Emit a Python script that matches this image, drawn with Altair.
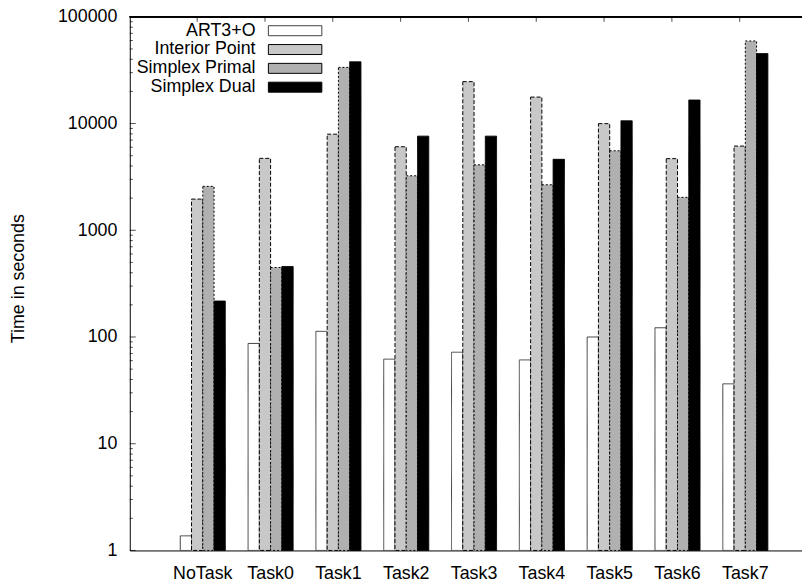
import altair as alt
import pandas as pd

FONT = "Liberation Sans"

categories = ["NoTask", "Task0", "Task1", "Task2", "Task3", "Task4", "Task5", "Task6", "Task7"]
series = ["ART3+O", "Interior Point", "Simplex Primal", "Simplex Dual"]
art3o = [1.37, 87, 113, 62, 72, 61, 100, 122, 36.4]
interior_point = [1960, 4720, 7950, 6060, 24700, 17700, 9980, 4690, 6150]
simplex_primal = [2580, 448, 33600, 3240, 4100, 2670, 5560, 2035, 59400]
simplex_dual = [217, 458, 37900, 7620, 7620, 4620, 10600, 16600, 45300]
y_ticks = [1, 10, 100, 1000, 10000, 100000]
minor_ticks = [m * 10 ** e for e in range(5) for m in range(2, 10)]

fills = ["#ffffff", "#c8c8c8", "#b0b0b0", "#000000"]
strokes = ["#404040", "#000000", "#000000", "#000000"]
dashes = [[1, 0], [4, 2], [2, 2], [1, 0]]

rows = []
for s, vals in zip(series, [art3o, interior_point, simplex_primal, simplex_dual]):
    for c, v in zip(categories, vals):
        rows.append({"task": c, "series": s, "value": v})
df = pd.DataFrame(rows)
legend_df = pd.DataFrame({"series": series})
task_df = pd.DataFrame({"task": categories})
major_df = pd.DataFrame({"v": y_ticks})
minor_df = pd.DataFrame({"v": minor_ticks})

W, H = 679, 539

x_scale = alt.Scale(type="band", domain=categories, paddingInner=0.3358,
                    paddingOuter=0.6241, align=0.5965)
y_scale = alt.Scale(type="log", domain=[1, 100000], nice=False)
fill_enc = alt.Fill("series:N", scale=alt.Scale(domain=series, range=fills), legend=None)
stroke_enc = alt.Stroke("series:N", scale=alt.Scale(domain=series, range=strokes), legend=None)
dash_enc = alt.StrokeDash("series:N", scale=alt.Scale(domain=series, range=dashes), legend=None)
xoff = alt.XOffset("series:N", sort=series,
                   scale=alt.Scale(domain=series, paddingInner=0, paddingOuter=0))

bars = alt.Chart(df).mark_bar(strokeWidth=1).encode(
    x=alt.X("task:N", sort=categories, scale=x_scale,
            axis=alt.Axis(orient="bottom", title=None, labelAngle=0, ticks=False,
                          domain=True, domainColor="black", labelFontSize=18,
                          labelFont=FONT, labelColor="black", labelPadding=14,
                          bandPosition=0.375, grid=False)),
    xOffset=xoff,
    y=alt.Y("value:Q", scale=y_scale,
            axis=alt.Axis(orient="left", values=y_ticks, format="d", ticks=False,
                          labelPadding=13, labelFontSize=18, labelFont=FONT,
                          labelColor="black", domain=True, domainColor="black",
                          title="Time in seconds", titleFontSize=18, titleFont=FONT,
                          titleFontWeight="normal", titleColor="black",
                          titleX=-112.5, titleY=264, titleBaseline="middle",
                          titleAlign="center", titleAngle=270, grid=False)),
    y2=alt.datum(1),
    fill=fill_enc, stroke=stroke_enc, strokeDash=dash_enc,
)

top_border = alt.Chart(task_df).mark_rule(color="black", strokeWidth=1).encode(
    x=alt.value(0), x2=alt.value(W), y=alt.value(0)
)

top_ticks = alt.Chart(task_df).mark_tick(
    color="black", orient="vertical", size=5, thickness=1
).encode(
    x=alt.X("task:N", sort=categories, scale=x_scale, bandPosition=0.375, axis=None),
    y=alt.value(2.5),
)

major_y = alt.Chart(major_df).mark_tick(
    color="black", orient="horizontal", size=6, thickness=1
).encode(
    y=alt.Y("v:Q", scale=y_scale, axis=None), x=alt.value(3)
)

minor_y = alt.Chart(minor_df).mark_tick(
    color="black", orient="horizontal", size=3, thickness=1
).encode(
    y=alt.Y("v:Q", scale=y_scale, axis=None), x=alt.value(1.5)
)

leg_y = alt.Y("series:N", sort=series,
              scale=alt.Scale(type="band", domain=series, range=[9, 76.1],
                              paddingInner=0.47, paddingOuter=0),
              axis=None)

leg_rect = alt.Chart(legend_df).mark_rect(strokeWidth=1).encode(
    x=alt.value(140), x2=alt.value(194), y=leg_y,
    fill=fill_enc, stroke=stroke_enc, strokeDash=dash_enc,
)

leg_text = alt.Chart(legend_df).mark_text(
    align="right", baseline="middle", fontSize=18, font=FONT, color="black"
).encode(x=alt.value(127), y=leg_y, text="series:N")

chart = alt.layer(
    bars, top_border, top_ticks, major_y, minor_y, leg_rect, leg_text
).resolve_scale(y="independent").resolve_axis(x="independent", y="independent").properties(
    width=W, height=H,
    autosize=alt.AutoSizeParams(type="none"),
    padding={"left": 123, "top": 6, "right": 0, "bottom": 33},
).configure_view(stroke=None)

chart.save("out.html", embed_options={"renderer": "svg", "actions": False})
